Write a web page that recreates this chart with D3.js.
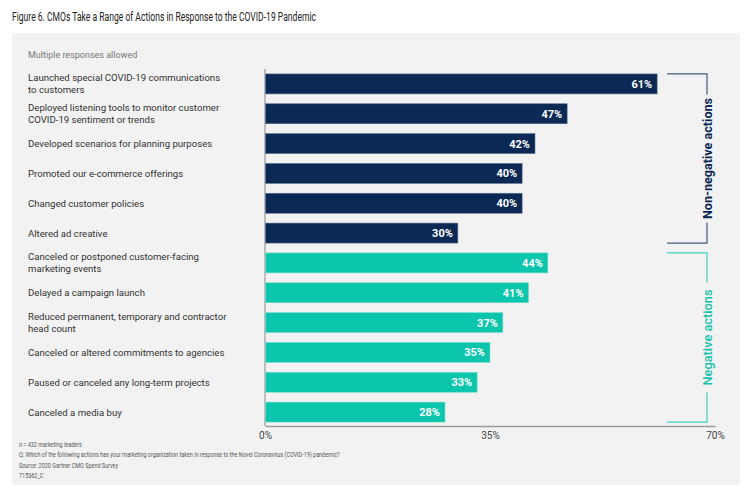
<!DOCTYPE html>
<html><head><meta charset="utf-8">
<script src="https://cdn.jsdelivr.net/npm/d3@7"></script>
<style>body{margin:0;background:#fff}text{font-family:Roboto,"Noto Sans",sans-serif}</style>
</head><body><svg id="c" width="750" height="492"></svg>
<script>
const categories = [
  ["Launched special COVID-19 communications","to customers"],
  ["Deployed listening tools to monitor customer","COVID-19 sentiment or trends"],
  ["Developed scenarios for planning purposes"],
  ["Promoted our e-commerce offerings"],
  ["Changed customer policies"],
  ["Altered ad creative"],
  ["Canceled or postponed customer-facing","marketing events"],
  ["Delayed a campaign launch"],
  ["Reduced permanent, temporary and contractor","head count"],
  ["Canceled or altered commitments to agencies"],
  ["Paused or canceled any long-term projects"],
  ["Canceled a media buy"]
];
const values = [61,47,42,40,40,30,44,41,37,35,33,28];
const groups = ["Non-negative actions","Non-negative actions","Non-negative actions","Non-negative actions","Non-negative actions","Non-negative actions","Negative actions","Negative actions","Negative actions","Negative actions","Negative actions","Negative actions"];
const groupNames = ["Non-negative actions","Negative actions"];
const tickValues = [0,35,70];
const notes = ["n = 432 marketing leaders","Q: Which of the following actions has your marketing organization taken in response to the Novel Coronavirus (COVID-19) pandemic?","Source: 2020 Gartner CMO Spend Survey","715362_C"];

const svg = d3.select("#c");
const navy="#0b2954", teal="#0cc5ad";
const color = d3.scaleOrdinal().domain(groupNames).range([navy,teal]);

svg.append("text").attr("x",12).attr("y",21).attr("font-size",12).attr("fill","#222")
  .attr("textLength",304).attr("lengthAdjust","spacingAndGlyphs")
  .text("Figure 6. CMOs Take a Range of Actions in Response to the COVID-19 Pandemic");
svg.append("rect").attr("x",12).attr("y",33).attr("width",728).attr("height",452).attr("fill","#f2f2f2");
svg.append("text").attr("x",28).attr("y",58).attr("font-size",9).attr("fill","#777").text("Multiple responses allowed");

const x = d3.scaleLinear().domain([0,70]).range([265,715]);
const y = d3.scaleBand().domain(d3.range(values.length)).range([69,427]).paddingInner(0.33).paddingOuter(0.165);

// axes
const xAxis = svg.append("g").attr("transform","translate(0,426)")
  .call(d3.axisBottom(x).tickValues(tickValues).tickFormat(d=>d+"%").tickSize(0).tickPadding(6));
xAxis.select(".domain").attr("stroke","#9a9a9a").attr("stroke-width",1.5);
xAxis.selectAll("text").attr("font-size",10).attr("fill","#444").attr("font-family","Roboto");
svg.append("line").attr("x1",265).attr("x2",265).attr("y1",69).attr("y2",426).attr("stroke","#9a9a9a").attr("stroke-width",1.2);

// bars
svg.append("g").selectAll("rect").data(values).join("rect")
  .attr("x",x(0)+0.5).attr("y",(d,i)=>y(i)).attr("height",y.bandwidth())
  .attr("width",d=>x(d)-x(0)-0.5).attr("fill",(d,i)=>color(groups[i]))
  .attr("stroke",(d,i)=>i<6?"#5d7290":"#7fdccd").attr("stroke-width",0.6);
svg.append("g").selectAll("text").data(values).join("text")
  .attr("x",d=>x(d)-5).attr("y",(d,i)=>y(i)+y.bandwidth()/2+4)
  .attr("text-anchor","end").attr("font-size",11).attr("font-weight","bold").attr("fill","#fff")
  .text(d=>d+"%");

// category labels
const lab = svg.append("g").selectAll("text").data(categories).join("text")
  .attr("x",28).attr("font-size",9.6).attr("fill","#333")
  .attr("y",(d,i)=>y(i)+y.bandwidth()/2+3.5-(d.length-1)*6);
lab.selectAll("tspan").data(d=>d).join("tspan").attr("x",28).attr("dy",(d,j)=>j?12:0).text(d=>d);

// brackets
const bx0=667, bx1=707;
groupNames.forEach((g,gi)=>{
  const idx = d3.range(values.length).filter(i=>groups[i]===g);
  const top = y(idx[0]), bot = y(idx[idx.length-1])+y.bandwidth();
  const mid = (top+bot)/2;
  const c = gi===0?"#44597a":"#3fd1bd";
  const half = gi===0?64:55;
  const gg = svg.append("g").attr("fill","none").attr("stroke",c).attr("stroke-width",1.2);
  gg.append("path").attr("d",`M${bx0},${top}H${bx1}V${mid-half}`);
  gg.append("path").attr("d",`M${bx0},${bot}H${bx1}V${mid+half}`);
  svg.append("text").attr("transform",`translate(${bx1+4.5},${mid}) rotate(-90)`)
    .attr("text-anchor","middle").attr("font-size",gi===0?12.6:12.8)
    .attr("font-weight",gi===0?"bold":"500").attr("fill",gi===0?navy:"#14c2aa").text(g);
});

// notes
svg.append("g").selectAll("text").data(notes).join("text")
  .attr("x",19).attr("y",(d,i)=>447+i*10.3).attr("font-size",7.8).attr("fill","#555").text(d=>d)
  .each(function(){ const w=this.getComputedTextLength(); d3.select(this).attr("textLength",w*0.7).attr("lengthAdjust","spacingAndGlyphs"); });
</script></body></html>
